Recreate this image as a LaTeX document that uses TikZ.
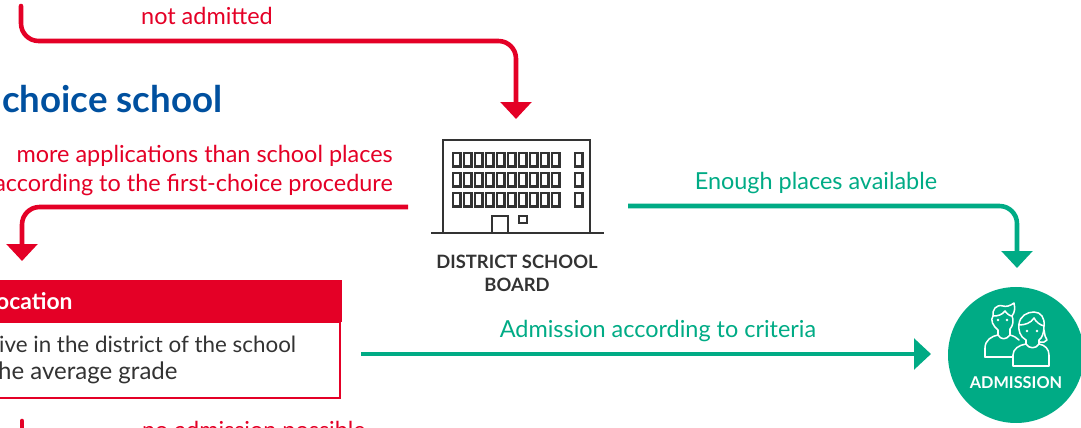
\documentclass[tikz,border=0pt]{standalone}
\usepackage{fontspec}
\setmainfont{Lato}
\usepackage{xcolor}
\usetikzlibrary{arrows.meta}
\definecolor{alertred}{HTML}{E40026}
\definecolor{okgreen}{HTML}{00AB85}
\definecolor{titleblue}{HTML}{00509F}
\definecolor{inkgrey}{HTML}{333333}
\tikzset{
 redline/.style={alertred, line width=3.9pt, rounded corners=15pt, -{Triangle[width=26pt,length=14.5pt]}},
 greenline/.style={okgreen, line width=3.9pt, rounded corners=15pt, -{Triangle[width=26pt,length=14.5pt]}},
 redtext/.style={alertred, font=\fontsize{20}{22}\selectfont, inner sep=0pt},
 greentext/.style={okgreen, font=\fontsize{20}{22}\selectfont, inner sep=0pt},
 bodytext/.style={inkgrey, font=\fontsize{19.1}{22}\selectfont, inner sep=0pt, anchor=west},
 capstext/.style={font=\fontsize{15.7}{18}\selectfont\bfseries, inner sep=0pt},
 buildingline/.style={inkgrey, line width=1.7pt},
 personline/.style={white, line width=1.3pt, line join=round, line cap=round},
}
\begin{document}
\begin{tikzpicture} [x=.03cm, y=-.03cm]
\useasboundingbox (0,0) rectangle (1081,428);
\clip (0,0) rectangle (1081,428);

% top arrow
\coordinate (topstart) at (21,6);
\coordinate (topbend) at (21,41);
\coordinate (toptip) at (516,119);
\draw[redline, line cap=round] (topstart) -- (topbend) -| (toptip);
\node[redtext] (notadmitted) at (207,16) {not admitted};
\node[anchor=west, inner sep=0pt, titleblue, font=\fontsize{31.3}{34}\selectfont\bfseries] (choice) at (2,99) {choice school};

% building
\node[inner sep=0pt, minimum width=147*.03cm, minimum height=93*.03cm, draw=inkgrey, line width=1.7pt] (board) at (516.5,186.5) {};
\draw[buildingline] (431,233) -- (604,233);
\foreach \y in {153,173,193} {
 \foreach \x in {453,464,...,553,575} {
  \draw[inkgrey, line width=1.9pt] (\x,\y) rectangle ++(7.5,13.5);
 }
}
\draw[buildingline] (492,233) -- (492,216) -- (508,216) -- (508,233);
\draw[inkgrey, line width=1.9pt] (519,216) rectangle (527,223);
\node[capstext, inkgrey] (boardone) at (517,262) {DISTRICT SCHOOL};
\node[capstext, inkgrey] (boardtwo) at (517,285) {BOARD};

% left arrow
\node[redtext, anchor=east] (moreapps) at (393,156) {more applications than school places};
\node[redtext, anchor=east] (accordingfirst) at (393,185) {according to the first-choice procedure};
\coordinate (leftstart) at (408,207);
\coordinate (lefttip) at (22,261);
\draw[redline] (leftstart) -| (lefttip);

% location box
\draw[alertred, line width=1.7pt] (-5,322) rectangle (340,398);
\fill[alertred] (-5,280) rectangle (342,322);
\node[anchor=west, inner sep=0pt, white, font=\fontsize{19.5}{22}\selectfont\bfseries] (location) at (-4,301) {ocation};
\node[bodytext] (livein) at (-1,344) {ive in the district of the school};
\node[bodytext, font=\fontsize{20.5}{22}\selectfont] (average) at (-2,373) {he average grade};

% bottom
\coordinate (lowstart) at (22,421);
\coordinate (lowend) at (22,434);
\draw[alertred, line width=3.9pt, line cap=round] (lowstart) -- (lowend);
\node[redtext] (nopossible) at (254,432) {no admission possible};

% admission
\node[circle, fill=okgreen, minimum size=136*.03cm, inner sep=0pt] (admission) at (1016,355) {};
\node[capstext, white, font=\fontsize{13.9}{16}\selectfont\bfseries] (admissiontext) at (1016,382.5) {ADMISSION};
% man
\draw[personline] (985,357) -- (985,348) .. controls (985,340) and (992,336) .. (998,335) .. controls (1001,340) and (1006,340) .. (1010,335) .. controls (1014,336) and (1017,338) .. (1019,340);
\draw[personline] (985,357) -- (1012,357);
\draw[personline] (998,335) -- (998,330) .. controls (993,326) and (990,320) .. (993,316) .. controls (992,310) and (996,304) .. (1003,306) .. controls (1006,307) and (1010,306) .. (1014,303) .. controls (1015,308) and (1015,312) .. (1012,316) .. controls (1014,320) and (1013,326) .. (1010,329) -- (1010,335);
\draw[personline] (993,316) .. controls (998,316) and (1002,315) .. (1005,311) .. controls (1007,314) and (1010,316) .. (1012,316);
% woman
\draw[personline] (1013,366) -- (1013,355) .. controls (1013,349) and (1019,345) .. (1026,344) .. controls (1029,349) and (1036,349) .. (1039,344) .. controls (1045,345) and (1049,349) .. (1049,355) -- (1049,366) -- cycle;
\draw[personline] (1026,344) -- (1026,340) .. controls (1020,337) and (1018,330) .. (1019,324) .. controls (1020,316) and (1027,312) .. (1034,312) .. controls (1041,312) and (1045,318) .. (1044,326) .. controls (1044,333) and (1042,338) .. (1039,340) -- (1039,344);
\draw[personline] (1019,325) .. controls (1025,325) and (1031,323) .. (1034,318) .. controls (1036,322) and (1040,325) .. (1044,326);
\draw[personline] (1044,330) .. controls (1045,335) and (1045,338) .. (1047,340) .. controls (1045,342) and (1043,343) .. (1040,342);
\fill[white] (998,320) circle (1.3) (1007,320) circle (1.3) (1027,331) circle (1.3) (1037,331) circle (1.3);

% right arrows
\node[greentext] (enough) at (816,183) {Enough places available};
\coordinate (rightstart) at (628,206);
\coordinate (righttip) at (1017,268);
\draw[greenline] (rightstart) -| (righttip);
\node[greentext] (criteria) at (658,331) {Admission according to criteria};
\coordinate (midstart) at (361,354);
\coordinate (midtip) at (931,354);
\draw[greenline] (midstart) -- (midtip);
\end{tikzpicture}
\end{document}
